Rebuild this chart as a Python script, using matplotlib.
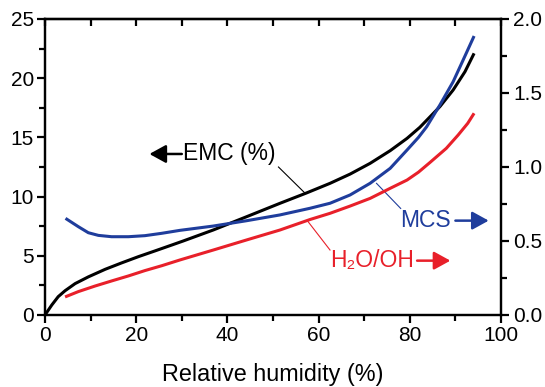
import matplotlib.pyplot as plt
from matplotlib.ticker import MultipleLocator

plt.rcParams['font.family'] = ['Liberation Sans', 'DejaVu Sans']

# EMC (%) - left axis
rh_emc = [0, 1.5, 2.9, 4.4, 6.6, 9.5, 13.2, 16.8, 20.5, 24.1, 27.8, 30.3, 36.9, 44.2,
          51.5, 57.3, 62.5, 66.9, 71.3, 75.7, 79.4, 82.2, 86.6, 89.5, 92.1, 94.1]
emc = [0, 0.85, 1.55, 2.05, 2.65, 3.22, 3.86, 4.4, 4.93, 5.41, 5.91, 6.25, 7.18, 8.3,
       9.43, 10.3, 11.12, 11.9, 12.81, 13.88, 14.92, 15.85, 17.6, 19.0, 20.55, 22.1]

# MCS - right axis
rh_mcs = [4.5, 7.3, 9.5, 11.7, 14.6, 18.3, 21.9, 25.6, 29.6, 36.9, 44.2, 51.5, 58.1,
          62.5, 66.9, 71.3, 75.7, 79.4, 81.9, 83.7, 86.6, 89.5, 91.7, 94.1]
mcs = [0.653, 0.597, 0.556, 0.538, 0.529, 0.529, 0.536, 0.552, 0.572, 0.601, 0.637, 0.676, 0.721,
       0.755, 0.811, 0.89, 0.991, 1.115, 1.2, 1.272, 1.419, 1.576, 1.723, 1.885]

# H2O/OH - right axis
rh_oh = [4.4, 7.3, 11.0, 14.6, 18.3, 21.9, 25.6, 29.6, 36.9, 44.2, 51.5, 58.1, 62.5,
         66.9, 71.3, 75.7, 79.4, 81.9, 84.4, 88.0, 90.6, 92.7, 94.1]
oh = [0.122, 0.158, 0.196, 0.23, 0.264, 0.3, 0.333, 0.372, 0.439, 0.507, 0.574, 0.645, 0.687,
      0.736, 0.788, 0.856, 0.912, 0.965, 1.03, 1.126, 1.216, 1.295, 1.363]

red = '#e8202a'
blue = '#1f3d9c'

fig = plt.figure(figsize=(5.45, 3.87), dpi=100)
ax = fig.add_axes([45 / 545, 72 / 387, 456 / 545, 296 / 387])
ax2 = ax.twinx()

line_kw = dict(lw=2.2, solid_capstyle='butt', solid_joinstyle='round')
ax.plot(rh_emc, emc, color='black', **line_kw)
ax2.plot(rh_mcs, mcs, color=blue, **line_kw)
ax2.plot(rh_oh, oh, color=red, **line_kw)

ax.set_xlim(0, 100)
ax.set_ylim(0, 25)
ax2.set_ylim(0, 2.0)

ax.xaxis.set_major_locator(MultipleLocator(20))
ax.xaxis.set_minor_locator(MultipleLocator(10))
ax.yaxis.set_major_locator(MultipleLocator(5))
ax.yaxis.set_minor_locator(MultipleLocator(2.5))
ax2.yaxis.set_major_locator(MultipleLocator(0.5))
ax2.yaxis.set_minor_locator(MultipleLocator(0.25))
ax2.yaxis.set_major_formatter(lambda v, p: f'{v:.1f}')

for a in (ax, ax2):
    for s in a.spines.values():
        s.set_linewidth(1.6)
ax.tick_params(axis='both', which='major', labelsize=15, width=1.6, length=6, pad=2)
ax.tick_params(axis='both', which='minor', width=1.6, length=4)
ax2.tick_params(axis='y', which='major', labelsize=15, width=1.6, length=6, pad=3)
ax2.tick_params(axis='y', which='minor', width=1.6, length=4)

# top axis: inward ticks every 10, no labels
top = ax.secondary_xaxis('top')
top.xaxis.set_major_locator(MultipleLocator(10))
top.tick_params(axis='x', direction='in', length=5, width=1.6, labeltop=False)
top.spines['top'].set_linewidth(1.6)

ax.set_xlabel('Relative humidity (%)', fontsize=16.8, labelpad=13)

arrow_style = '-|>,head_length=1.0,head_width=0.55'

# labels with arrows and leader lines (left-axis data units)
ax.text(30.2, 13.6, 'EMC (%)', fontsize=16.5, va='center', ha='left')
ax.annotate('', xy=(22.9, 13.6), xytext=(30.0, 13.6),
            arrowprops=dict(arrowstyle=arrow_style, color='black', lw=1.8,
                            shrinkA=0, shrinkB=0))
ax.plot([51.2, 57.0], [12.5, 10.3], color='black', lw=0.8)

ax.text(77.9, 7.97, 'MCS', fontsize=16.5, va='center', ha='left', color=blue)
ax.annotate('', xy=(97.3, 7.97), xytext=(90.0, 7.97),
            arrowprops=dict(arrowstyle=arrow_style, color=blue, lw=1.8,
                            shrinkA=0, shrinkB=0))
ax.plot([72.7, 78.0], [11.12, 9.0], color=blue, lw=0.8)

ax.text(62.6, 4.59, 'H₂O/OH', fontsize=16.5, va='center', ha='left', color=red)
ax.annotate('', xy=(88.9, 4.59), xytext=(81.6, 4.59),
            arrowprops=dict(arrowstyle=arrow_style, color=red, lw=1.8,
                            shrinkA=0, shrinkB=0))
ax.plot([57.7, 62.5], [7.88, 5.49], color=red, lw=0.8)

fig.savefig('out.png', dpi=100)
